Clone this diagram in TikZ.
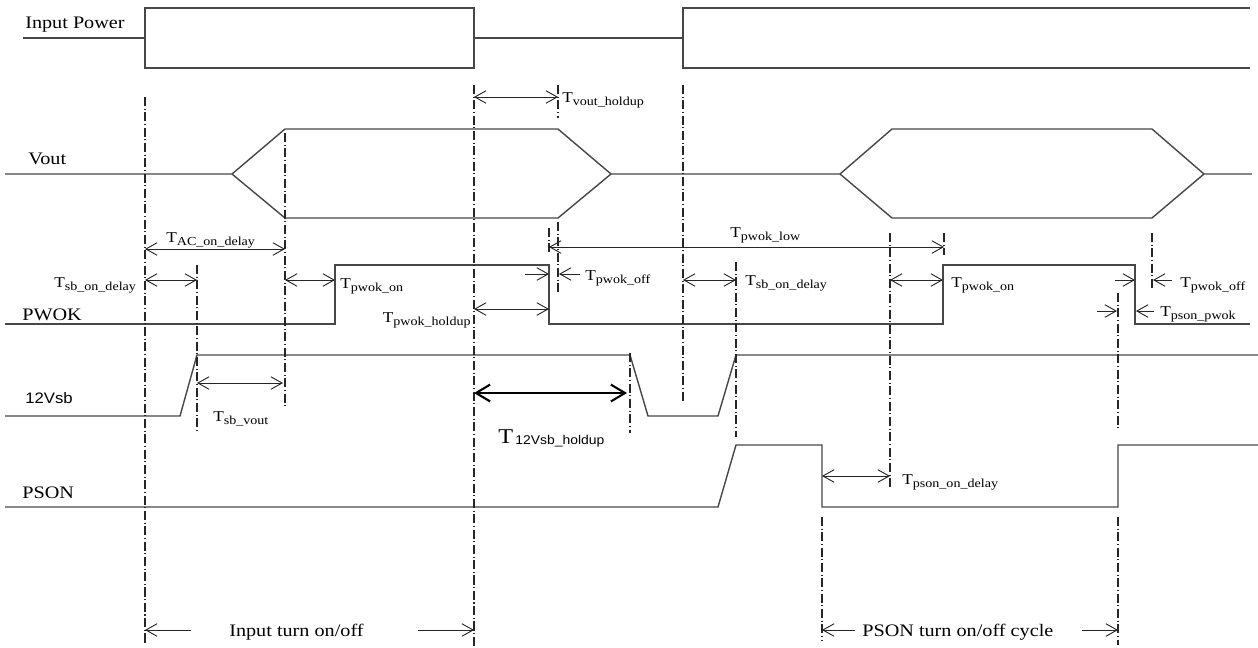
\documentclass[tikz,border=0pt]{standalone}
\usepackage{fontspec}
\setmainfont[FakeStretch=1.15]{Liberation Serif}
\setsansfont[FakeStretch=1.1]{Liberation Sans}
\usetikzlibrary{arrows.meta}

% time label: T with a lowered small subscript
\newcommand{\tlab}[1]{{\fontsize{10.7}{12}\selectfont T}\raisebox{-0.5ex}{\fontsize{8.7}{10}\selectfont #1}}

\tikzset{
  wave/.style={black!72, line width=1pt, line join=miter},
  tmark/.style={black!85, line width=0.75pt, dash pattern=on 6.5pt off 1.8pt on 0.8pt off 1.8pt},
  dimarrow/.style={black!85, line width=0.65pt},
  thickarrow/.style={black, line width=1.5pt, {Straight Barb[length=10pt,width=12pt]}-{Straight Barb[length=10pt,width=12pt]}},
  sigtext/.style={inner sep=0pt, anchor=base west, font=\fontsize{12.5}{14}\selectfont},
  tlabel/.style={inner sep=0pt, anchor=base west}
}

\begin{document}
\begin{tikzpicture}[x=0.025cm, y=-0.025cm, >={Straight Barb[length=8pt,width=9pt]}]
    \useasboundingbox (0,0) rectangle (1258,647);

    % Input Power
    \draw[wave] (23,38) -- (145,38);
    \draw[wave] (145,8) rectangle (474,68);
    \draw[wave] (474,38) -- (683,38);
    \draw[wave] (1250,8) -- (683,8) -- (683,68) -- (1250,68);

    % Vout
    \draw[wave] (5,174) -- (232,174) -- (285,129) -- (558,129) -- (611,174) -- (840,174)
        -- (892,129) -- (1152,129) -- (1204,174) -- (1252,174);
    \draw[wave] (232,174) -- (285,218) -- (558,218) -- (611,174);
    \draw[wave] (840,174) -- (892,218) -- (1152,218) -- (1204,174);

    % PWOK
    \draw[wave] (5,324) -- (335,324) -- (335,265) -- (549,265) -- (549,324) -- (943,324)
        -- (943,265) -- (1135,265) -- (1135,324) -- (1250,324);

    % 12Vsb
    \draw[wave] (5,416) -- (180,416) -- (197,355) -- (630,355) -- (648,416) -- (718,416)
        -- (736,355) -- (1258,355);

    % PSON
    \draw[wave] (5,507) -- (718,507) -- (736,445) -- (822,445) -- (822,507) -- (1118,507)
        -- (1118,445) -- (1258,445);

    % dash-dot time marks
    \foreach \x/\ya/\yb in {145/97/645, 285/133/408, 197/265/432, 474/85/647, 558/85/118,
        558/222/292, 549/228/252, 630/353/433, 683/85/402, 736/262/437, 890/233/487,
        944/233/255, 1152/233/290, 1118/293/430, 822/517/640, 1118/517/645}
        \draw[tmark] (\x,\ya) -- (\x,\yb);

    % signal names
    \node[sigtext] (inpow) at (25,28) {Input Power};
    \node[sigtext] (vout) at (28,164) {Vout};
    \node[sigtext] (pwok) at (22,320) {PWOK};
    \node[sigtext, font=\sffamily\fontsize{10.8}{12}\selectfont] (vsb) at (25,403) {12Vsb};
    \node[sigtext] (pson) at (22,498) {PSON};

    % timing arrows
    \draw[dimarrow,<->] (474,97) -- (558,97);
    \draw[dimarrow,<->] (145,249) -- (285,249);
    \draw[dimarrow,<->] (145,280) -- (197,280);
    \draw[dimarrow,<->] (285,280) -- (335,280);
    \draw[dimarrow,<->] (474,309) -- (549,309);
    \draw[dimarrow,->] (525,274) -- (549,274);
    \draw[dimarrow,->] (580,274) -- (559,274);
    \draw[dimarrow,<->] (549,247) -- (944,247);
    \draw[dimarrow,<->] (683,280) -- (736,280);
    \draw[dimarrow,<->] (890,280) -- (943,280);
    \draw[dimarrow,->] (1115,280) -- (1135,280);
    \draw[dimarrow,->] (1172,280) -- (1153,280);
    \draw[dimarrow,->] (1097,311) -- (1117,311);
    \draw[dimarrow,->] (1154,311) -- (1136,311);
    \draw[thickarrow] (474,393) -- (627,393);
    \draw[dimarrow,<->] (197,383) -- (283,383);
    \draw[dimarrow,<->] (822,476) -- (890,476);

    % timing labels
    \node[tlabel] (tvh) at (562,102) {\tlab{vout\_holdup}};
    \node[tlabel] (tac) at (166,242) {\tlab{AC\_on\_delay}};
    \node[tlabel] (tsb1) at (54,287) {\tlab{sb\_on\_delay}};
    \node[tlabel] (tpon1) at (340,288) {\tlab{pwok\_on}};
    \node[tlabel, anchor=base east] (tph) at (471,322) {\tlab{pwok\_holdup}};
    \node[tlabel] (tpoff1) at (585,280) {\tlab{pwok\_off}};
    \node[tlabel] (tplow) at (730,237) {\tlab{pwok\_low}};
    \node[tlabel] (tsb2) at (745,285) {\tlab{sb\_on\_delay}};
    \node[tlabel] (tpon2) at (951,287) {\tlab{pwok\_on}};
    \node[tlabel] (tpoff2) at (1180,287) {\tlab{pwok\_off}};
    \node[tlabel] (tpsp) at (1160,316) {\tlab{pson\_pwok}};
    \node[tlabel] (t12) at (498,443) {{\fontsize{15}{16}\selectfont T}\,\raisebox{-0.3ex}{\sffamily\fontsize{9}{10}\selectfont 12Vsb\_holdup}};
    \node[tlabel] (tsbv) at (213,421) {\tlab{sb\_vout}};
    \node[tlabel] (tpsd) at (902,484) {\tlab{pson\_on\_delay}};

    % bottom spans
    \node[sigtext] (inturn) at (229,636) {Input turn on/off};
    \draw[dimarrow,->] (191,630) -- (145,630);
    \draw[dimarrow,->] (418,630) -- (474,630);
    \node[sigtext] (psturn) at (862,636) {PSON turn on/off cycle};
    \draw[dimarrow,->] (855,630) -- (822,630);
    \draw[dimarrow,->] (1082,630) -- (1118,630);
\end{tikzpicture}
\end{document}
